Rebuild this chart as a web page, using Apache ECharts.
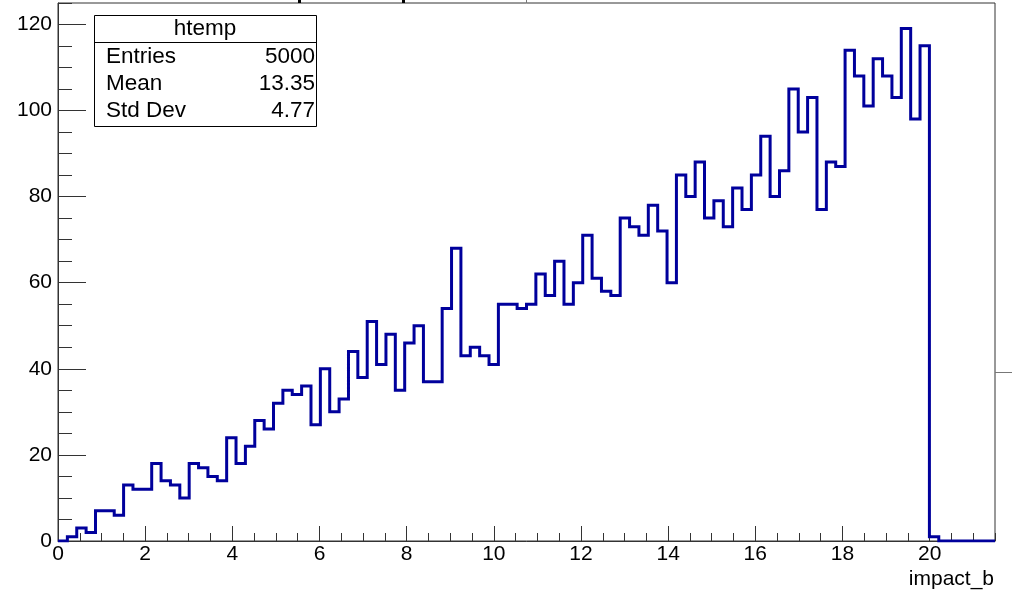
<!DOCTYPE html>
<html>
<head>
<meta charset="utf-8">
<script src="https://cdn.jsdelivr.net/npm/echarts@6/dist/echarts.min.js"></script>
<style>html,body{margin:0;padding:0;background:#fff}#c{width:1012px;height:590px}</style>
</head>
<body>
<div id="c"></div>
<script>
// Histogram "impact_b": 100 bins from 0 to 21.5
const binLow = 0;
const binHigh = 21.5;
const binCounts = [
  0, 1, 3, 2, 7, 7, 6, 13, 12, 12,
  18, 14, 13, 10, 18, 17, 15, 14, 24, 18,
  22, 28, 26, 32, 35, 34, 36, 27, 40, 30,
  33, 44, 38, 51, 41, 48, 35, 46, 50, 37,
  37, 54, 68, 43, 45, 43, 41, 55, 55, 54,
  55, 62, 57, 65, 55, 60, 71, 61, 58, 57,
  75, 73, 71, 78, 72, 60, 85, 80, 88, 75,
  79, 73, 82, 77, 85, 94, 80, 86, 105, 95,
  103, 77, 88, 87, 114, 108, 101, 112, 108, 103,
  119, 98, 115, 1, 0, 0, 0, 0, 0, 0
];
const xTicks = [0, 2, 4, 6, 8, 10, 12, 14, 16, 18, 20];
const yTicks = [0, 20, 40, 60, 80, 100, 120];
const statsTitle = 'htemp';
const statsNames = ['Entries', 'Mean', 'Std Dev'];
const statsValues = ['5000', '13.35', '4.77'];
const xTitle = 'impact_b';

const nb = binCounts.length;
const bw = (binHigh - binLow) / nb;
const pts = [];
for (let i = 0; i < nb; i++) {
  const lo = binLow + i * bw, hi = lo + bw;
  pts.push([lo, binCounts[i]]);
  pts.push([hi, binCounts[i]]);
}
const yMax = Math.max(...binCounts) * 1.05;

const font = '"Liberation Sans", Arial, Helvetica, sans-serif';
const axisCol = '#333';

const chart = echarts.init(document.getElementById('c'), null, {renderer: 'canvas'});

const statsG = [];
const bx = 94, by = 15, bwid = 222, bh = 111, hdr = 27;
const sFont = '22.5px ' + font;
statsG.push({type: 'rect', shape: {x: bx + 0.5, y: by + 0.5, width: bwid, height: bh}, style: {fill: '#fff', stroke: '#000', lineWidth: 1}, z: 100});
statsG.push({type: 'line', shape: {x1: bx, y1: by + hdr + 0.5, x2: bx + bwid, y2: by + hdr + 0.5}, style: {stroke: '#000', lineWidth: 1}, z: 101});
statsG.push({type: 'text', x: bx + bwid / 2, y: by + 14, style: {text: statsTitle, font: sFont, fill: '#000', align: 'center', verticalAlign: 'middle'}, z: 102});
for (let i = 0; i < statsNames.length; i++) {
  const yy = by + hdr + 15 + i * 27;
  statsG.push({type: 'text', x: bx + 12, y: yy, style: {text: statsNames[i], font: sFont, fill: '#000', align: 'left', verticalAlign: 'middle'}, z: 102});
  statsG.push({type: 'text', x: bx + bwid - 1, y: yy, style: {text: statsValues[i], font: sFont, fill: '#000', align: 'right', verticalAlign: 'middle'}, z: 102});
}
// decorative marks outside the frame
statsG.push({type: 'line', shape: {x1: 995, y1: 372.5, x2: 1012, y2: 372.5}, style: {stroke: '#777', lineWidth: 1}, z: 90});
statsG.push({type: 'rect', shape: {x: 298, y: 0, width: 3, height: 3}, style: {fill: '#000'}, z: 90});
statsG.push({type: 'rect', shape: {x: 402, y: 0, width: 3, height: 3}, style: {fill: '#000'}, z: 90});
statsG.push({type: 'line', shape: {x1: 526.5, y1: 0, x2: 526.5, y2: 3}, style: {stroke: '#777', lineWidth: 1}, z: 90});

const labelStyle = {color: '#000', fontSize: 21, fontFamily: font};

chart.setOption({
  animation: false,
  backgroundColor: '#fff',
  grid: {left: 58, right: 17, top: 3, bottom: 49, show: true, borderColor: axisCol, borderWidth: 1, backgroundColor: 'transparent'},
  xAxis: [{
    type: 'value', min: binLow, max: binHigh, interval: 2,
    axisLine: {show: true, onZero: false, lineStyle: {color: axisCol, width: 1}},
    axisTick: {show: true, inside: true, length: 15, lineStyle: {color: axisCol}},
    axisLabel: {...labelStyle, margin: 3, showMaxLabel: false,
      formatter: v => xTicks.indexOf(v) >= 0 ? String(v) : ''},
    splitLine: {show: false},
    name: xTitle, nameLocation: 'end', nameGap: -1,
    nameTextStyle: {color: '#000', fontSize: 21, fontFamily: font, align: 'right', verticalAlign: 'top', padding: [28, 0, 0, 0]}
  }, {
    type: 'value', min: binLow, max: binHigh, interval: 0.5, position: 'bottom',
    axisLine: {show: false}, axisLabel: {show: false}, splitLine: {show: false},
    axisTick: {show: true, inside: true, length: 8, lineStyle: {color: axisCol}}
  }],
  yAxis: [{
    type: 'value', min: 0, max: yMax, interval: 20,
    axisLine: {show: true, onZero: false, lineStyle: {color: axisCol, width: 1}},
    axisTick: {show: true, inside: true, length: 28, lineStyle: {color: axisCol}},
    axisLabel: {...labelStyle, margin: 6, showMaxLabel: false,
      formatter: v => yTicks.indexOf(v) >= 0 ? String(v) : ''},
    splitLine: {show: false}
  }, {
    type: 'value', min: 0, max: yMax, interval: 5, position: 'left',
    axisLine: {show: false}, axisLabel: {show: false}, splitLine: {show: false},
    axisTick: {show: true, inside: true, length: 14, lineStyle: {color: axisCol}}
  }],
  series: [{
    type: 'line', data: pts, xAxisIndex: 0, yAxisIndex: 0,
    symbol: 'none', smooth: false, clip: true,
    lineStyle: {color: '#00009c', width: 3, join: 'miter'},
    z: 10
  }],
  graphic: statsG
});
</script>
</body>
</html>
